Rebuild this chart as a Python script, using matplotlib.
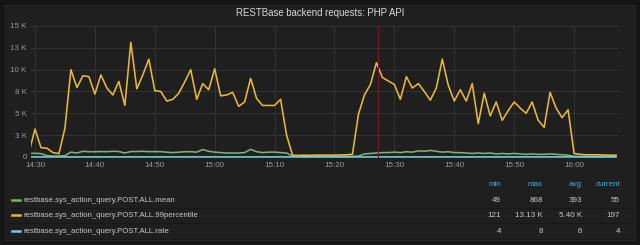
import numpy as np
import pandas as pd
import matplotlib
matplotlib.use("Agg")
import matplotlib.pyplot as plt
import matplotlib.dates as mdates
from matplotlib.patches import Rectangle
from matplotlib.ticker import FuncFormatter, MultipleLocator

plt.rcParams["font.family"] = ["Liberation Sans", "DejaVu Sans"]

title = "RESTBase backend requests: PHP API"

# one sample per minute, 14:29 .. 16:07
times = pd.date_range("2016-01-01 14:29", "2016-01-01 16:07", freq="1min")

p99 = [
    500, 3200, 1070, 1000, 500, 380, 3300, 10000, 7950, 9300,
    9200, 7200, 9400, 7900, 7100, 8650, 5900, 13130, 7800, 9400,
    11200, 7600, 7500, 6400, 6600, 7300, 8600, 10000, 6600, 8400,
    7700, 10100, 7000, 7100, 7400, 5800, 6300, 9000, 6700, 5900,
    5900, 5900, 6600, 2500, 200, 180, 200, 190, 210, 220,
    200, 210, 230, 250, 300, 4900, 7100, 8300, 10800, 9100,
    8700, 8300, 6600, 9200, 7900, 8400, 7500, 6500, 7900, 11200,
    8200, 6400, 7700, 6400, 8400, 3800, 7300, 4700, 6300, 4200,
    5300, 6300, 5600, 5000, 6300, 4200, 3400, 7400, 5600, 4500,
    5400, 400, 300, 250, 250, 250, 220, 200, 197,
]

mean = [
    400, 420, 380, 150, 100, 100, 150, 550, 450, 650,
    600, 600, 620, 600, 650, 620, 450, 620, 620, 650,
    600, 620, 600, 550, 500, 550, 600, 600, 550, 850,
    650, 550, 500, 450, 450, 450, 500, 868, 600, 500,
    550, 550, 500, 450, 100, 60, 55, 50, 49, 55,
    60, 55, 50, 60, 70, 100, 350, 400, 450, 500,
    500, 550, 500, 600, 550, 700, 650, 750, 650, 550,
    600, 500, 500, 450, 400, 450, 400, 450, 350, 400,
    350, 400, 350, 300, 350, 300, 300, 350, 300, 250,
    200, 70, 55, 55, 55, 55, 55, 55, 55,
]

rate = [
    6, 6, 5, 5, 4, 4, 5, 6, 6, 7,
    7, 6, 6, 7, 6, 6, 6, 7, 6, 6,
    7, 6, 6, 6, 6, 7, 6, 6, 6, 8,
    7, 6, 6, 6, 6, 6, 6, 8, 6, 6,
    6, 6, 6, 6, 5, 4, 4, 4, 4, 4,
    4, 4, 4, 4, 4, 5, 6, 6, 7, 7,
    6, 7, 6, 7, 6, 7, 7, 7, 6, 6,
    7, 6, 6, 6, 6, 6, 6, 6, 6, 6,
    6, 6, 6, 6, 6, 6, 6, 6, 6, 6,
    6, 5, 4, 4, 4, 4, 4, 4, 4,
]

series_names = [
    "restbase.sys_action_query.POST.ALL.mean",
    "restbase.sys_action_query.POST.ALL.99percentile",
    "restbase.sys_action_query.POST.ALL.rate",
]
series_colors = ["#7eb26d", "#eab839", "#6ed0e0"]
stat_headers = ["min", "max", "avg", "current"]
stat_rows = [
    ["49", "868", "393", "55"],
    ["121", "13.13 K", "5.40 K", "197"],
    ["4", "8", "6", "4"],
]

annotation_time = pd.Timestamp("2016-01-01 15:27:20")

fig = plt.figure(figsize=(6.4, 2.45), dpi=100, facecolor="#161616")
panel = Rectangle((0.008, 0.02), 0.984, 0.958, transform=fig.transFigure,
                  facecolor="#1f1f1f", edgecolor="#262626", lw=0.8, zorder=-10)
fig.patches.append(panel)

ax = fig.add_axes([31 / 640, 1 - 158 / 245, 587 / 640, 132 / 245], zorder=2)
ax.set_facecolor("#1f1f1f")

for vals, color in zip([mean, p99, rate], series_colors):
    ax.plot(times, vals, color=color, lw=1.15)

# annotation marker
ax.axvline(annotation_time, color="#7a1c1c", lw=0.8, zorder=3)

ax.set_xlim(pd.Timestamp("2016-01-01 14:29:20"), pd.Timestamp("2016-01-01 16:07:20"))
ax.set_ylim(-120, 15000)
ax.yaxis.set_major_locator(MultipleLocator(2500))
ax.yaxis.set_major_formatter(FuncFormatter(lambda v, p: "0" if v == 0 else f"{int(v / 1000 + 0.5)} K"))
ax.xaxis.set_major_locator(mdates.MinuteLocator(byminute=range(0, 60, 10)))
ax.xaxis.set_major_formatter(mdates.DateFormatter("%H:%M"))
ax.grid(True, color="#333333", lw=0.7)
ax.set_axisbelow(True)
for s in ax.spines.values():
    s.set_visible(False)
ax.tick_params(length=0, colors="#9a9a9a", labelsize=5.8, pad=3)

fig.text(0.5, 1 - 13 / 245, title, ha="center", va="center", color="#d8d9da", fontsize=6.9)

# legend table
col_right = [501, 543, 582, 620]
for x, h in zip(col_right, stat_headers):
    fig.text(x / 640, 1 - 184 / 245, h, ha="right", va="center", color="#33b5e5", fontsize=5.8)

row_y = [200, 215, 231]
for y, name, color, stats in zip(row_y, series_names, series_colors, stat_rows):
    fy = 1 - y / 245
    fig.lines.append(plt.Line2D([11.5 / 640, 20 / 640], [fy, fy], transform=fig.transFigure,
                                color=color, lw=1.8))
    fig.text(24 / 640, fy, name, ha="left", va="center", color="#c8c9ca", fontsize=5.6)
    for x, s in zip(col_right, stats):
        fig.text(x / 640, fy, s, ha="right", va="center", color="#c8c9ca", fontsize=5.8)
    sep = 1 - (y + 7.5) / 245
    fig.lines.append(plt.Line2D([8 / 640, 632 / 640], [sep, sep], transform=fig.transFigure,
                                color="#181818", lw=0.8))

fig.savefig("out.png", dpi=100, facecolor=fig.get_facecolor())
